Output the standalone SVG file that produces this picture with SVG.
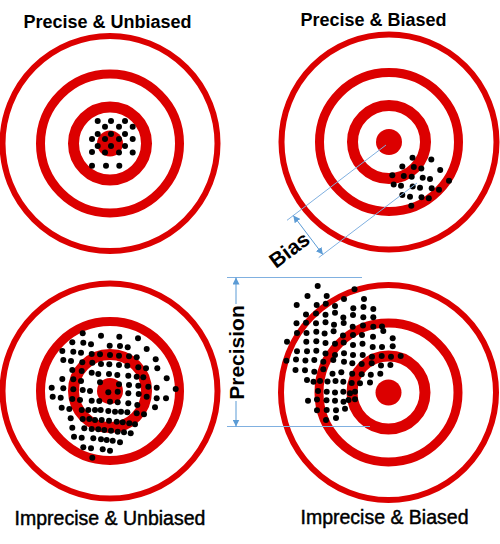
<svg xmlns="http://www.w3.org/2000/svg" xmlns:xlink="http://www.w3.org/1999/xlink" width="500" height="544" viewBox="0 0 500 544">
<style>
.ring{fill:none;stroke:#dc0000}
.r1{stroke-width:6}
.r2{stroke-width:9}
.r3{stroke-width:11}
.bull{fill:#dc0000}
.dots circle{fill:#000}
.t{font-family:"Liberation Sans",Arial,sans-serif;fill:#000;text-anchor:middle}
.tb{font-weight:bold;font-size:18px}
.tr{font-size:19.5px;stroke:#000;stroke-width:0.45px}
.ann{font-weight:bold;font-size:21px}
.dim{stroke:#80b0e0;stroke-width:1;fill:none}
.arr{stroke:#5b9bd5;stroke-width:1;fill:none}
</style>
<defs>
<g id="target">
<circle class="ring r1" r="107.5"/>
<circle class="ring r2" r="69.5"/>
<circle class="ring r3" r="36.5"/>
<circle class="bull" r="13"/>
</g>
<marker id="ah" viewBox="0 0 10 10" refX="10" refY="5" markerWidth="7" markerHeight="7" markerUnits="userSpaceOnUse" orient="auto-start-reverse">
<path d="M0,0 L10,5 L0,10 z" fill="#5b9bd5"/>
</marker>
</defs>
<rect width="500" height="544" fill="#fff"/>

<g id="target-precise-unbiased">
<use href="#target" x="110" y="143.5"/>
<g class="dots">
<circle cx="97.7" cy="121" r="3"/><circle cx="111" cy="121" r="3"/><circle cx="125" cy="121" r="3"/>
<circle cx="105" cy="126.7" r="3"/><circle cx="119" cy="126.7" r="3"/><circle cx="132.7" cy="126.7" r="3"/>
<circle cx="97.7" cy="134" r="3"/><circle cx="111" cy="134" r="3"/><circle cx="125" cy="134" r="3"/>
<circle cx="92" cy="139" r="3"/><circle cx="105" cy="139" r="3"/><circle cx="119" cy="139" r="3"/><circle cx="132.7" cy="139" r="3"/>
<circle cx="97.7" cy="146" r="3"/><circle cx="111" cy="146" r="3"/><circle cx="125" cy="146" r="3"/>
<circle cx="92" cy="152" r="3"/><circle cx="105" cy="152.5" r="3"/><circle cx="119" cy="152.5" r="3"/><circle cx="132.7" cy="152.5" r="3"/>
<circle cx="92" cy="165.7" r="3"/><circle cx="106" cy="165.7" r="3"/><circle cx="119.3" cy="165.7" r="3"/>
</g>
<text class="t tb" x="107.5" y="28">Precise &amp; Unbiased</text>
</g>

<g id="target-precise-biased">
<use href="#target" x="389" y="142"/>
<g class="dots">
<circle cx="412.5" cy="157.7" r="3"/><circle cx="431.3" cy="159.5" r="3"/><circle cx="402.3" cy="166.5" r="3"/><circle cx="413.8" cy="167" r="3"/>
<circle cx="421.3" cy="168.5" r="3"/><circle cx="440.2" cy="170" r="3"/><circle cx="392.3" cy="175.2" r="3"/><circle cx="403.8" cy="176" r="3"/>
<circle cx="411.7" cy="176.8" r="3"/><circle cx="422.7" cy="177.7" r="3"/><circle cx="430" cy="179" r="3"/><circle cx="449" cy="180.8" r="3"/>
<circle cx="393.7" cy="184.5" r="3"/><circle cx="401" cy="185.7" r="3"/><circle cx="412.7" cy="186.5" r="3"/><circle cx="420" cy="187.7" r="3"/>
<circle cx="431.7" cy="188.3" r="3"/><circle cx="439" cy="189.8" r="3"/><circle cx="402.3" cy="195" r="3"/><circle cx="410" cy="196.7" r="3"/>
<circle cx="421.5" cy="197.3" r="3"/><circle cx="428.8" cy="198.3" r="3"/><circle cx="411.3" cy="205.8" r="3"/>
</g>
<text class="t tb" x="373.5" y="26">Precise &amp; Biased</text>
</g>

<g id="target-imprecise-unbiased">
<use href="#target" x="110" y="391"/>
<g class="dots">
<circle cx="82.7" cy="333.3" r="3"/><circle cx="101" cy="335.7" r="3"/><circle cx="119.3" cy="336.7" r="3"/><circle cx="138" cy="338.3" r="3"/>
<circle cx="72.3" cy="342.3" r="3"/><circle cx="83.3" cy="342.7" r="3"/><circle cx="91" cy="344.3" r="3"/><circle cx="109.7" cy="345.7" r="3"/><circle cx="120" cy="346" r="3"/><circle cx="127.7" cy="347.3" r="3"/><circle cx="146.7" cy="349" r="3"/>
<circle cx="62.3" cy="351" r="3"/><circle cx="73.3" cy="351.7" r="3"/><circle cx="81" cy="352.7" r="3"/><circle cx="91.7" cy="354" r="3"/><circle cx="100" cy="354.3" r="3"/><circle cx="110" cy="355" r="3"/><circle cx="119" cy="355.7" r="3"/><circle cx="129" cy="356.3" r="3"/><circle cx="136.7" cy="357.3" r="3"/><circle cx="155.7" cy="359.3" r="3"/>
<circle cx="63.3" cy="360" r="3"/><circle cx="71" cy="361" r="3"/><circle cx="82.3" cy="362.3" r="3"/><circle cx="92.3" cy="362.7" r="3"/><circle cx="101" cy="364" r="3"/><circle cx="109.3" cy="364.3" r="3"/><circle cx="119" cy="365" r="3"/><circle cx="127.3" cy="365.7" r="3"/><circle cx="138.3" cy="367.3" r="3"/><circle cx="146" cy="368.3" r="3"/><circle cx="157.3" cy="368.3" r="3"/>
<circle cx="72.3" cy="370" r="3"/><circle cx="81.7" cy="371" r="3"/><circle cx="91.7" cy="372.7" r="3"/><circle cx="98.3" cy="374" r="3"/><circle cx="109" cy="374" r="3"/><circle cx="117.3" cy="375" r="3"/><circle cx="128.3" cy="375.7" r="3"/><circle cx="136.7" cy="376.7" r="3"/><circle cx="143.3" cy="377.3" r="3"/>
<circle cx="62.3" cy="379" r="3"/><circle cx="73.3" cy="379.3" r="3"/><circle cx="81" cy="381" r="3"/><circle cx="100" cy="382.3" r="3"/><circle cx="119" cy="384.3" r="3"/><circle cx="129" cy="385" r="3"/><circle cx="138.3" cy="385.7" r="3"/><circle cx="148.3" cy="386.7" r="3"/><circle cx="166.7" cy="378.3" r="3"/>
<circle cx="51.7" cy="387.7" r="3"/><circle cx="63.3" cy="388.3" r="3"/><circle cx="73.3" cy="389.3" r="3"/><circle cx="82.7" cy="390" r="3"/><circle cx="90" cy="391" r="3"/><circle cx="108.3" cy="392.3" r="3"/><circle cx="117.7" cy="391.7" r="3"/><circle cx="128.3" cy="393.3" r="3"/><circle cx="138.7" cy="394" r="3"/><circle cx="156.7" cy="387.7" r="3"/><circle cx="175.7" cy="389" r="3"/>
<circle cx="52.7" cy="396.7" r="3"/><circle cx="60.7" cy="397.7" r="3"/><circle cx="72.3" cy="399" r="3"/><circle cx="80" cy="400" r="3"/><circle cx="91.7" cy="400.7" r="3"/><circle cx="99.3" cy="401" r="3"/><circle cx="110" cy="401.7" r="3"/><circle cx="117.7" cy="402.3" r="3"/><circle cx="128.3" cy="403.3" r="3"/><circle cx="137.3" cy="405" r="3"/><circle cx="146.7" cy="396.7" r="3"/><circle cx="156.7" cy="398.3" r="3"/><circle cx="166" cy="398.3" r="3"/>
<circle cx="61.7" cy="407.7" r="3"/><circle cx="69.3" cy="409" r="3"/><circle cx="81.7" cy="410" r="3"/><circle cx="88.3" cy="410" r="3"/><circle cx="95" cy="410" r="3"/><circle cx="100.7" cy="410" r="3"/><circle cx="108.3" cy="411" r="3"/><circle cx="115" cy="411.7" r="3"/><circle cx="121" cy="411.7" r="3"/><circle cx="127.3" cy="412.3" r="3"/><circle cx="136.7" cy="413.3" r="3"/><circle cx="144" cy="414.3" r="3"/><circle cx="155" cy="407.3" r="3"/>
<circle cx="70.7" cy="418.3" r="3"/><circle cx="82.7" cy="419" r="3"/><circle cx="89.3" cy="419" r="3"/><circle cx="95" cy="420" r="3"/><circle cx="101.7" cy="420" r="3"/><circle cx="109" cy="420.7" r="3"/><circle cx="116.7" cy="421.7" r="3"/><circle cx="122.7" cy="422.3" r="3"/><circle cx="129.3" cy="423.3" r="3"/><circle cx="135" cy="424.3" r="3"/>
<circle cx="72.3" cy="427.7" r="3"/><circle cx="84.3" cy="428.3" r="3"/><circle cx="91.7" cy="429" r="3"/><circle cx="98.3" cy="429.3" r="3"/><circle cx="104.3" cy="430" r="3"/><circle cx="111" cy="430.7" r="3"/><circle cx="117.7" cy="431.7" r="3"/><circle cx="124" cy="432.3" r="3"/><circle cx="130.7" cy="433.3" r="3"/>
<circle cx="74" cy="436.7" r="3"/><circle cx="81.7" cy="437.7" r="3"/><circle cx="93.3" cy="438.3" r="3"/><circle cx="101" cy="439.3" r="3"/><circle cx="106.7" cy="440" r="3"/><circle cx="112.7" cy="440.7" r="3"/><circle cx="120" cy="442.3" r="3"/>
<circle cx="83.3" cy="447.3" r="3"/><circle cx="91" cy="448.3" r="3"/><circle cx="102.7" cy="449.3" r="3"/><circle cx="110" cy="450.7" r="3"/>
<circle cx="92.3" cy="457.7" r="3"/>
</g>
<text class="t tr" x="110" y="525">Imprecise &amp; Unbiased</text>
</g>

<g id="target-imprecise-biased">
<use href="#target" x="388.5" y="392.5"/>
<g class="dots">
<circle cx="317.7" cy="286" r="3"/><circle cx="354.5" cy="289.3" r="3"/>
<circle cx="307.5" cy="296" r="3"/><circle cx="326.7" cy="296" r="3"/><circle cx="344" cy="299" r="3"/><circle cx="364" cy="299" r="3"/>
<circle cx="296.7" cy="305" r="3"/><circle cx="316.7" cy="305" r="3"/><circle cx="325.8" cy="303.7" r="3"/><circle cx="335" cy="306" r="3"/><circle cx="353.3" cy="308.3" r="3"/><circle cx="363.5" cy="307" r="3"/><circle cx="373.3" cy="309" r="3"/>
<circle cx="306" cy="314.5" r="3"/><circle cx="316" cy="313.5" r="3"/><circle cx="325.5" cy="314.7" r="3"/><circle cx="335" cy="312.7" r="3"/><circle cx="343.3" cy="317.5" r="3"/><circle cx="353" cy="315" r="3"/><circle cx="363.3" cy="317.3" r="3"/><circle cx="373.3" cy="317.3" r="3"/>
<circle cx="296.5" cy="323.3" r="3"/><circle cx="306" cy="322.7" r="3"/><circle cx="316" cy="323.3" r="3"/><circle cx="325.5" cy="322.2" r="3"/><circle cx="334" cy="324.7" r="3"/><circle cx="343.7" cy="323" r="3"/><circle cx="352.7" cy="326.7" r="3"/><circle cx="363" cy="325.5" r="3"/><circle cx="373.3" cy="326.7" r="3"/><circle cx="382" cy="326.5" r="3"/>
<circle cx="297" cy="333" r="3"/><circle cx="306.5" cy="333" r="3"/><circle cx="316.3" cy="331.7" r="3"/><circle cx="324.6" cy="333.6" r="3"/><circle cx="333.6" cy="331.3" r="3"/><circle cx="343" cy="335.5" r="3"/><circle cx="353" cy="335" r="3"/><circle cx="362" cy="335" r="3"/><circle cx="373" cy="336.7" r="3"/><circle cx="383.3" cy="331" r="3"/><circle cx="392.7" cy="338.3" r="3"/>
<circle cx="287" cy="341.7" r="3"/><circle cx="306.3" cy="341.7" r="3"/><circle cx="316.3" cy="341.3" r="3"/><circle cx="325.5" cy="343" r="3"/><circle cx="335" cy="343.8" r="3"/><circle cx="343.7" cy="342.5" r="3"/><circle cx="353" cy="345" r="3"/><circle cx="362.5" cy="343.8" r="3"/><circle cx="372.7" cy="347" r="3"/><circle cx="382" cy="347" r="3"/><circle cx="392.7" cy="346.3" r="3"/>
<circle cx="297" cy="351.2" r="3"/><circle cx="307" cy="351.2" r="3"/><circle cx="316.3" cy="350.8" r="3"/><circle cx="325.5" cy="353.5" r="3"/><circle cx="335" cy="355" r="3"/><circle cx="344" cy="353.3" r="3"/><circle cx="353" cy="355" r="3"/><circle cx="362.7" cy="355" r="3"/><circle cx="372" cy="356.7" r="3"/><circle cx="381.7" cy="356" r="3"/><circle cx="391" cy="356.7" r="3"/><circle cx="400.7" cy="356" r="3"/>
<circle cx="286.4" cy="360.8" r="3"/><circle cx="296" cy="359.6" r="3"/><circle cx="305.4" cy="360.5" r="3"/><circle cx="314.3" cy="360" r="3"/><circle cx="323.3" cy="361.7" r="3"/><circle cx="333.3" cy="360" r="3"/><circle cx="344" cy="361.7" r="3"/><circle cx="352.3" cy="363.3" r="3"/><circle cx="361.7" cy="364" r="3"/><circle cx="371.7" cy="363.3" r="3"/><circle cx="381" cy="365.5" r="3"/><circle cx="390.4" cy="365" r="3"/>
<circle cx="295.5" cy="370" r="3"/><circle cx="305" cy="370.3" r="3"/><circle cx="314.3" cy="371.7" r="3"/><circle cx="323.3" cy="369.3" r="3"/><circle cx="332.5" cy="373.7" r="3"/><circle cx="341.3" cy="372.2" r="3"/><circle cx="352.2" cy="373.8" r="3"/><circle cx="361.7" cy="374.2" r="3"/><circle cx="370.8" cy="374.7" r="3"/><circle cx="380.3" cy="373.7" r="3"/>
<circle cx="307" cy="380" r="3"/><circle cx="313.5" cy="381.7" r="3"/><circle cx="320" cy="381" r="3"/><circle cx="327.5" cy="381.5" r="3"/><circle cx="335.5" cy="381" r="3"/><circle cx="343.3" cy="381.7" r="3"/><circle cx="351.7" cy="383" r="3"/><circle cx="360" cy="383.3" r="3"/><circle cx="370" cy="382.5" r="3"/>
<circle cx="318" cy="391" r="3"/><circle cx="326.7" cy="391.7" r="3"/><circle cx="335" cy="392.5" r="3"/><circle cx="343.3" cy="391.7" r="3"/><circle cx="350" cy="393.3" r="3"/><circle cx="355" cy="391.7" r="3"/>
<circle cx="308" cy="400.7" r="3"/><circle cx="317" cy="399.5" r="3"/><circle cx="326.5" cy="400.3" r="3"/><circle cx="335" cy="400.7" r="3"/><circle cx="343.5" cy="401.7" r="3"/><circle cx="348.5" cy="400" r="3"/><circle cx="355" cy="399.3" r="3"/>
<circle cx="317" cy="410.3" r="3"/><circle cx="326.7" cy="410" r="3"/><circle cx="336" cy="410.3" r="3"/><circle cx="345" cy="408.7" r="3"/>
<circle cx="326" cy="420" r="3"/><circle cx="336" cy="418" r="3"/>
</g>
<text class="t tr" x="384.5" y="524">Imprecise &amp; Biased</text>
</g>

<g id="connectors">
<line class="dim" x1="386" y1="145" x2="287" y2="220.3"/>
<line class="dim" x1="417" y1="183" x2="318.7" y2="257.6"/>
<line class="arr" x1="293.3" y1="215.5" x2="322.9" y2="254.6" marker-start="url(#ah)" marker-end="url(#ah)"/>
<line class="dim" x1="227" y1="277.5" x2="362" y2="277.5"/>
<line class="dim" x1="227" y1="426.5" x2="370" y2="426.5"/>
<line class="arr" x1="236" y1="277.5" x2="236" y2="304" marker-start="url(#ah)"/>
<line class="arr" x1="236" y1="401" x2="236" y2="426.5" marker-end="url(#ah)"/>
</g>

<g id="labels">
<text class="t ann" transform="translate(289.5,250) rotate(-37)" x="0" y="7">Bias</text>
<text class="t ann" transform="translate(244,352.5) rotate(-90)" x="0" y="0">Precision</text>
</g>
</svg>
